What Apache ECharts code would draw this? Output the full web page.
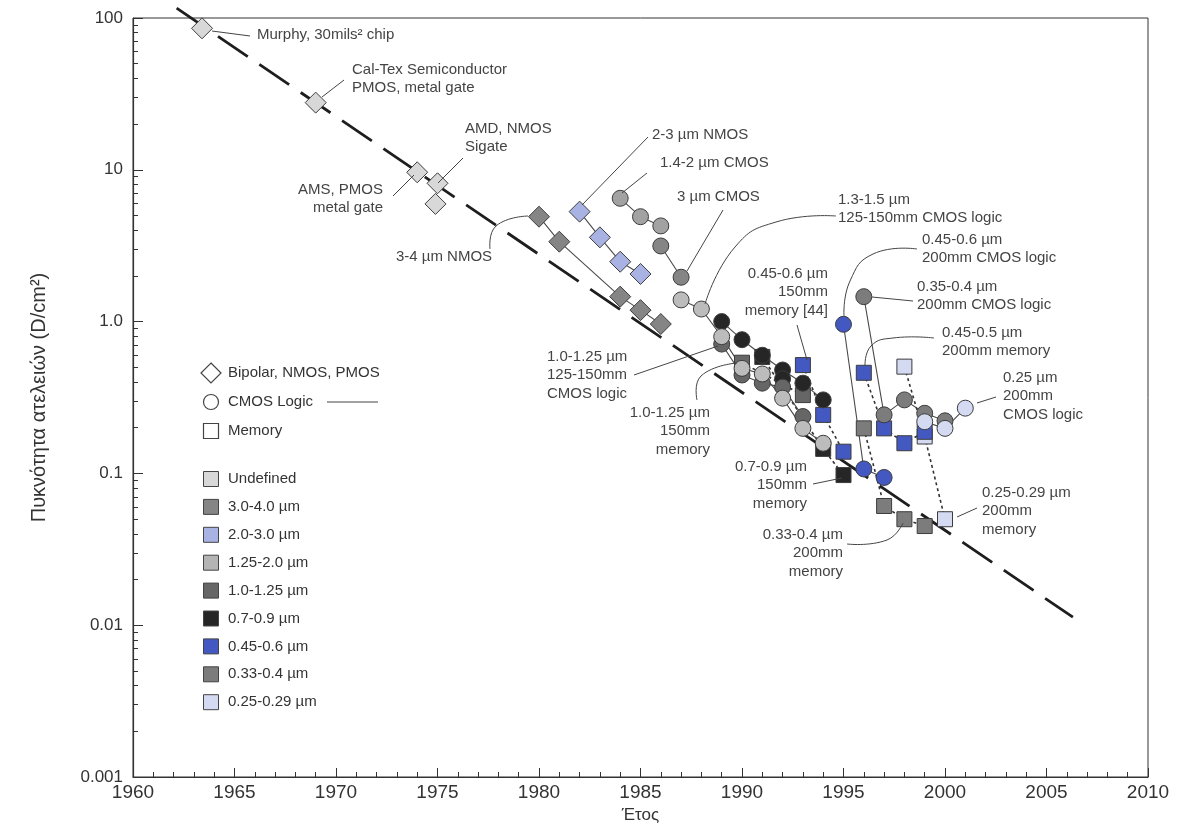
<!DOCTYPE html>
<html lang="el">
<head>
    <meta charset="UTF-8">
    <title>Defect density trend</title>
    <script src="https://cdn.jsdelivr.net/npm/echarts@6.0.0/dist/echarts.min.js"></script>
    <style>
        html, body { margin: 0; padding: 0; background: #fff; }
        #main { width: 1192px; height: 837px; }
    </style>
</head>
<body>
<div id="main"></div>
<script>
    // ---- data: [year, defects per cm2] ----
    var trendLine   = [[1962.15, 116], [2006.3, 0.0113]];
    var undefinedPts = [[1963.4, 85.5], [1969, 27.7], [1974, 9.63], [1975, 8.15], [1974.9, 5.96]];
    var nmos34   = [[1980, 4.91], [1981, 3.36], [1984, 1.46], [1985, 1.19], [1986, 0.964]];
    var nmos23   = [[1982, 5.3], [1983, 3.59], [1984, 2.48], [1985, 2.06]];
    var cmos1420 = [[1984, 6.49], [1985, 4.91], [1986, 4.27]];
    var cmos3um  = [[1986, 3.15], [1987, 1.96]];
    var cmos1315 = [[1987, 1.39], [1988, 1.21], [1989, 0.796], [1990, 0.492], [1991, 0.452], [1992, 0.313], [1993, 0.198], [1994, 0.158]];
    var cmos1012 = [[1989, 0.711], [1990, 0.445], [1991, 0.393], [1992, 0.37], [1993, 0.237]];
    var cmos0709 = [[1989, 1.0], [1990, 0.76], [1991, 0.6], [1992, 0.48], [1993, 0.393], [1994, 0.305]];
    var cmos0709b = [[1992, 0.42]];
    var mem1012  = [[1990, 0.536], [1993, 0.328]];
    var mem0709  = [[1991, 0.585], [1994, 0.145], [1995, 0.0975]];
    var mem4560  = [[1993, 0.517], [1994, 0.243], [1995, 0.139]];
    var cmos4560 = [[1995, 0.96], [1996, 0.107], [1997, 0.094]];
    var cmos3540 = [[1996, 1.46], [1997, 0.243], [1998, 0.305], [1999, 0.249], [2000, 0.222]];
    var cmos025  = [[1999, 0.219], [2000, 0.198], [2001, 0.269]];
    var mem4550  = [[1996, 0.46], [1997, 0.198], [1998, 0.158], [1999, 0.188]];
    var mem3340  = [[1996, 0.198], [1997, 0.061], [1998, 0.0499], [1999, 0.045]];
    var mem2529  = [[1998, 0.505], [1999, 0.175], [2000, 0.0499]];

    var shapeLegend = ['Bipolar, NMOS, PMOS', 'CMOS Logic', 'Memory'];
    var sizeLegend = ['Undefined', '3.0-4.0 µm', '2.0-3.0 µm', '1.25-2.0 µm', '1.0-1.25 µm',
        '0.7-0.9 µm', '0.45-0.6 µm', '0.33-0.4 µm', '0.25-0.29 µm'];

    var col = {
        undef: '#d8d8d8', s3040: '#858585', s2030: '#a9b3e3', s1220: '#b4b4b4', s1012: '#666666',
        s0709: '#262626', s4560: '#4458c2', s3340: '#7c7c7c', s2529: '#d3daf1'
    };
    var sizeColors = [col.undef, col.s3040, col.s2030, col.s1220, col.s1012, col.s0709, col.s4560, col.s3340, col.s2529];

    var FONT = '"Liberation Sans", Arial, sans-serif';
    var chart = echarts.init(document.getElementById('main'));

    function grp(name, data, symbol, color, lineType, size) {
        return {
            name: name, type: 'line', data: data, symbol: symbol,
            symbolSize: size || (symbol === 'diamond' ? 21 : (symbol === 'rect' ? 15 : 16)),
            itemStyle: {color: color, borderColor: '#3c3c3c', borderWidth: 1},
            lineStyle: lineType === 'none' ? {width: 0, opacity: 0} :
                (lineType === 'dotted' ? {color: '#333', width: 1.6, type: [3, 3]} : {color: '#4a4a4a', width: 1.1}),
            animation: false, z: 3
        };
    }

    var minorVals = [];
    [-3, -2, -1, 0, 1].forEach(function (e) {
        for (var m = 2; m <= 9; m++) minorVals.push(+(m * Math.pow(10, e)).toPrecision(3));
    });

    chart.setOption({
        animation: false,
        grid: {left: 133, right: 44, top: 18, bottom: 60, show: true, borderColor: '#333', borderWidth: 1},
        xAxis: {
            type: 'value', min: 1960, max: 2010, interval: 5,
            name: 'Έτος', nameLocation: 'middle', nameGap: 24,
            nameTextStyle: {fontSize: 17, color: '#333', fontFamily: FONT},
            axisLine: {lineStyle: {color: '#333', width: 1.2}},
            axisTick: {inside: true, length: 9, lineStyle: {color: '#333'}},
            minorTick: {show: true, splitNumber: 5, length: 5, lineStyle: {color: '#333'}},
            axisLabel: {
                fontSize: 19, color: '#333', margin: 6, fontFamily: FONT,
                formatter: function (v) { return String(v); }
            },
            splitLine: {show: false}
        },
        yAxis: [{
            type: 'log', min: 0.001, max: 100, logBase: 10,
            name: 'Πυκνότητα ατελειών (D/cm²)', nameLocation: 'middle', nameGap: 84,
            nameTextStyle: {fontSize: 20, color: '#333', fontFamily: FONT},
            axisLine: {show: true, lineStyle: {color: '#333', width: 1.2}},
            axisTick: {inside: true, length: 10, lineStyle: {color: '#333'}},
            axisLabel: {
                fontSize: 17, color: '#333', margin: 10, fontFamily: FONT,
                formatter: function (v) {
                    var p = +(+v).toPrecision(1);
                    return p === 1 ? '1.0' : String(p);
                }
            },
            splitLine: {show: false}
        }, {
            type: 'log', min: 0.001, max: 100, logBase: 10, position: 'left', offset: 0,
            axisLine: {show: false},
            axisTick: {show: true, inside: true, length: 5, customValues: minorVals, lineStyle: {color: '#333'}},
            axisLabel: {show: false},
            splitLine: {show: false}
        }],
        series: [
            {
                name: 'trend', type: 'line', data: trendLine, symbol: 'none', clip: false, z: 2,
                lineStyle: {color: '#1e1e1e', width: 2.8, type: [36, 14]}, animation: false
            },
            grp('undefined', undefinedPts, 'diamond', col.undef, 'none'),
            grp('3-4 NMOS', nmos34, 'diamond', col.s3040, 'solid'),
            grp('2-3 NMOS', nmos23, 'diamond', col.s2030, 'solid'),
            grp('1.4-2 CMOS', cmos1420, 'circle', '#a2a2a2', 'solid'),
            grp('3 CMOS', cmos3um, 'circle', col.s3040, 'solid'),
            grp('mem 1.0-1.25', mem1012, 'rect', col.s1012, 'dotted'),
            grp('mem 0.7-0.9', mem0709, 'rect', col.s0709, 'dotted'),
            grp('mem 0.45-0.6 150', mem4560, 'rect', col.s4560, 'dotted'),
            grp('cmos 0.7-0.9', cmos0709, 'circle', col.s0709, 'solid'),
            grp('cmos 0.7-0.9 b', cmos0709b, 'circle', col.s0709, 'none'),
            grp('cmos 1.0-1.25', cmos1012, 'circle', col.s1012, 'solid'),
            grp('cmos 1.3-1.5', cmos1315, 'circle', '#bcbcbc', 'solid'),
            grp('mem 0.33-0.4', mem3340, 'rect', col.s3340, 'dotted'),
            grp('mem 0.25-0.29', mem2529, 'rect', col.s2529, 'dotted'),
            grp('mem 0.45-0.5', mem4550, 'rect', col.s4560, 'dotted'),
            grp('cmos 0.45-0.6', cmos4560, 'circle', col.s4560, 'solid'),
            grp('cmos 0.35-0.4', cmos3540, 'circle', col.s3340, 'solid'),
            grp('cmos 0.25', cmos025, 'circle', col.s2529, 'solid')
        ]
    });

    // ---- annotations: positions given in reference-picture pixels, mapped through the axes ----
    function ref(x, y) {
        var yr = 1960 + (x - 133) / 20.3;
        var v = Math.pow(10, 2 - (y - 18) / 151.8);
        return chart.convertToPixel({xAxisIndex: 0, yAxisIndex: 0}, [yr, v]);
    }

    var notes = [
        {t: ['Murphy, 30mils² chip'], x: 257, y: 35, a: 'left', lead: [[212, 31], [250, 36]]},
        {t: ['Cal-Tex Semiconductor', 'PMOS, metal gate'], x: 352, y: 70, a: 'left', lead: [[322, 97], [344, 80]]},
        {t: ['AMD, NMOS', 'Sigate'], x: 465, y: 129, a: 'left', lead: [[438, 183], [463, 158]]},
        {t: ['AMS, PMOS', 'metal gate'], x: 383, y: 190, a: 'right', lead: [[393, 196], [414, 175]]},
        {t: ['3-4 µm NMOS'], x: 444, y: 257, a: 'center', lead: [[490, 249], [496, 226], [528, 216]]},
        {t: ['2-3 µm NMOS'], x: 652, y: 135, a: 'left', lead: [[582, 205], [648, 137]]},
        {t: ['1.4-2 µm CMOS'], x: 660, y: 163, a: 'left', lead: [[622, 193], [647, 173]]},
        {t: ['3 µm CMOS'], x: 677, y: 197, a: 'left', lead: [[687, 271], [723, 210]]},
        {t: ['1.3-1.5 µm', '125-150mm CMOS logic'], x: 838, y: 200, a: 'left', lead: [[705, 304], [735, 247], [776, 222], [836, 216]]},
        {t: ['0.45-0.6 µm', '200mm CMOS logic'], x: 922, y: 240, a: 'left', lead: [[844, 316], [850, 281], [873, 254], [917, 249]]},
        {t: ['0.35-0.4 µm', '200mm CMOS logic'], x: 917, y: 287, a: 'left', lead: [[872, 297], [913, 301]]},
        {t: ['0.45-0.5 µm', '200mm memory'], x: 942, y: 333, a: 'left', lead: [[865, 366], [871, 346], [893, 338], [934, 338]]},
        {t: ['0.25 µm', '200mm', 'CMOS logic'], x: 1003, y: 378, a: 'left', lead: [[977, 403], [996, 397]]},
        {t: ['0.45-0.6 µm', '150mm', 'memory [44]'], x: 828, y: 274, a: 'right', lead: [[807, 360], [797, 325]]},
        {t: ['1.0-1.25 µm', '125-150mm', 'CMOS logic'], x: 547, y: 357, a: 'left', lead: [[634, 375], [718, 346]]},
        {t: ['1.0-1.25 µm', '150mm', 'memory'], x: 710, y: 413, a: 'right', lead: [[697, 400], [701, 376], [737, 363]]},
        {t: ['0.7-0.9 µm', '150mm', 'memory'], x: 807, y: 467, a: 'right', lead: [[813, 484], [842, 478]]},
        {t: ['0.33-0.4 µm', '200mm', 'memory'], x: 843, y: 535, a: 'right', lead: [[847, 544], [887, 540], [903, 523]]},
        {t: ['0.25-0.29 µm', '200mm', 'memory'], x: 982, y: 493, a: 'left', lead: [[957, 517], [977, 508]]}
    ];

    var LH = 18.3;
    var gfx = [];
    notes.forEach(function (n) {
        var p = ref(n.x, n.y);
        gfx.push({
            type: 'text', x: p[0], y: p[1] - LH / 2, z: 10,
            style: {
                text: n.t.join('\n'), fill: '#444', font: '15px ' + FONT, lineHeight: LH,
                align: n.a, verticalAlign: 'top'
            }
        });
        gfx.push({
            type: 'polyline', z: 9,
            shape: {points: n.lead.map(function (q) { return ref(q[0], q[1]); }), smooth: n.lead.length > 2 ? 0.5 : 0},
            style: {stroke: '#444', lineWidth: 1, fill: null}
        });
    });

    // ---- legend block (lower left) ----
    var LX = 211, TX = 228;
    var shapeY = [373, 402, 431];
    gfx.push({type: 'polygon', shape: {points: [[LX, shapeY[0] - 10], [LX + 10, shapeY[0]], [LX, shapeY[0] + 10], [LX - 10, shapeY[0]]]},
        style: {fill: '#fff', stroke: '#444', lineWidth: 1.2}});
    gfx.push({type: 'circle', shape: {cx: LX, cy: shapeY[1], r: 7.5}, style: {fill: '#fff', stroke: '#444', lineWidth: 1.2}});
    gfx.push({type: 'rect', shape: {x: LX - 7.5, y: shapeY[2] - 7.5, width: 15, height: 15}, style: {fill: '#fff', stroke: '#444', lineWidth: 1.2}});
    gfx.push({type: 'line', shape: {x1: 327, y1: shapeY[1], x2: 378, y2: shapeY[1]}, style: {stroke: '#444', lineWidth: 1.2}});
    shapeLegend.forEach(function (s, i) {
        gfx.push({type: 'text', x: TX, y: shapeY[i], style: {text: s, fill: '#333', font: '15px ' + FONT, verticalAlign: 'middle'}});
    });
    sizeLegend.forEach(function (s, i) {
        var y = 479 + i * 27.9;
        gfx.push({type: 'rect', shape: {x: LX - 7.5, y: y - 7.5, width: 15, height: 15},
            style: {fill: sizeColors[i], stroke: '#444', lineWidth: 1}});
        gfx.push({type: 'text', x: TX, y: y, style: {text: s, fill: '#333', font: '15px ' + FONT, verticalAlign: 'middle'}});
    });

    chart.setOption({graphic: gfx});
</script>
</body>
</html>
